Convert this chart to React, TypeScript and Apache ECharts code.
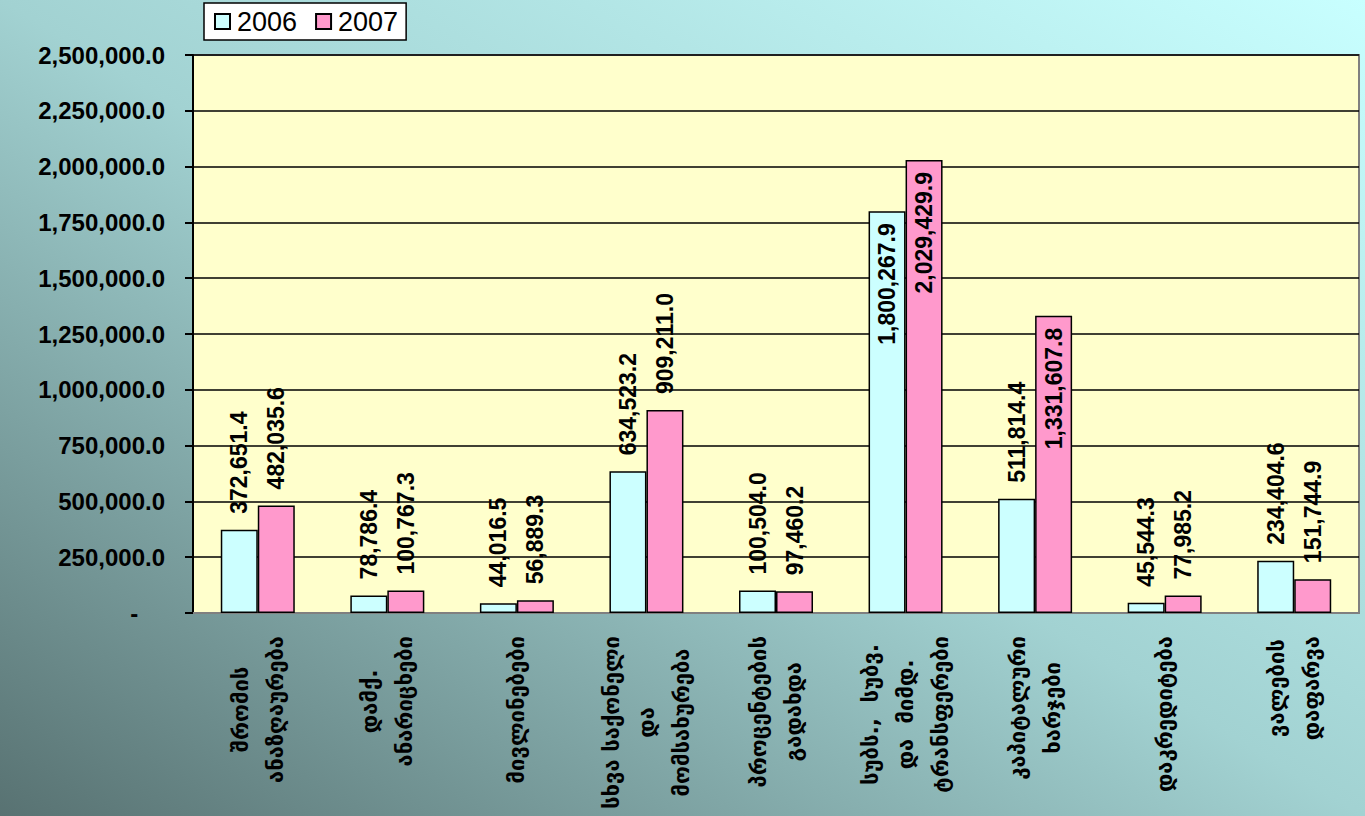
import React, { useEffect, useRef } from "react";
import * as echarts from "echarts";

const categories = [
  "შრომის\nანაზღაურება",
  "დამქ.\nანარიცხები",
  "მივლინებები",
  "სხვა საქონელი\nდა\nმომსახურება",
  "პროცენტების\nგადახდა",
  "სუბს.,  სუბვ.\nდა  მიმდ.\nტრანსფერები",
  "კაპიტალური\nხარჯები",
  "დაკრედიტება",
  "ვალების\nდაფარვა",
];
const seriesNames = ["2006", "2007"];
const values2006 = [372651.4, 78786.4, 44016.5, 634523.2, 100504.0, 1800267.9, 511814.4, 45544.3, 234404.6];
const values2007 = [482035.6, 100767.3, 56889.3, 909211.0, 97460.2, 2029429.9, 1331607.8, 77985.2, 151744.9];
const yMin = 0;
const yMax = 2500000;
const yInterval = 250000;

const fmt = (v: number) =>
  v.toLocaleString("en-US", { minimumFractionDigits: 1, maximumFractionDigits: 1 });

const NUM_FONT = "'Liberation Sans', Arial, sans-serif";

function buildData(values: number[]) {
  return values.map((v) => {
    const inside = v > 1000000;
    return {
      value: v,
      label: inside
        ? { position: "insideTop", distance: 12, align: "right", verticalAlign: "middle" }
        : { position: "top", distance: 16, align: "left", verticalAlign: "middle" },
    };
  });
}

export default function App() {
  const ref = useRef<HTMLDivElement>(null);
  useEffect(() => {
    document.body.style.margin = "0";
    const chart = echarts.init(ref.current!, null, { renderer: "svg" });
    const labelCommon = {
      show: true,
      rotate: 90,
      formatter: (p: any) => fmt(p.value),
      fontFamily: NUM_FONT,
      fontWeight: "bold",
      fontSize: 23,
      color: "#000",
    };
    chart.setOption({
      animation: false,
      backgroundColor: "transparent",
      legend: {
        data: seriesNames,
        left: 204,
        top: 3,
        padding: [5, 8, 5, 10],
        backgroundColor: "#ffffff",
        borderColor: "#000",
        borderWidth: 1.5,
        borderRadius: 0,
        itemWidth: 15,
        itemHeight: 15,
        itemGap: 18,
        icon: "rect",
        textStyle: { fontFamily: NUM_FONT, fontSize: 27, color: "#000", padding: [0, 0, 0, 2] },
      },
      grid: {
        left: 193,
        right: 6,
        top: 55,
        bottom: 203,
        outerBoundsMode: "none",
        containLabel: false,
        show: true,
        backgroundColor: "#ffffcc",
        borderColor: "#808080",
        borderWidth: 2,
      },
      xAxis: {
        type: "category",
        data: categories,
        axisLine: { show: true, lineStyle: { color: "#808080", width: 2 } },
        axisTick: { show: false },
        axisLabel: {
          interval: 0,
          rotate: 90,
          margin: 23,
          formatter: (v: string) => v.split("\n").map((l) => `{c|${l}}`).join("\n"),
          rich: {
            c: {
              align: "center",
              fontFamily: "'DejaVu Sans', sans-serif",
              fontSize: 22,
              fontWeight: "bold",
              lineHeight: 35,
              color: "#000",
            },
          },
        },
      },
      yAxis: {
        type: "value",
        min: yMin,
        max: yMax,
        interval: yInterval,
        axisLine: { show: true, lineStyle: { color: "#000", width: 2 } },
        axisTick: { show: true, inside: false, length: 8, lineStyle: { color: "#000", width: 2 } },
        splitLine: { show: true, lineStyle: { color: "#000", width: 1.5 } },
        axisLabel: {
          margin: 28,
          fontFamily: NUM_FONT,
          fontWeight: "bold",
          fontSize: 24,
          color: "#000",
          formatter: (v: number) => (v === 0 ? "-    " : fmt(v)),
        },
      },
      series: [
        {
          name: seriesNames[0],
          type: "bar",
          data: buildData(values2006),
          barWidth: 37,
          barGap: "0%",
          itemStyle: { color: "#ccffff", borderColor: "#000", borderWidth: 1.5 },
          label: labelCommon,
        },
        {
          name: seriesNames[1],
          type: "bar",
          data: buildData(values2007),
          barWidth: 37,
          barGap: "0%",
          itemStyle: { color: "#ff99cc", borderColor: "#000", borderWidth: 1.5 },
          label: labelCommon,
        },
      ],
    });
    return () => chart.dispose();
  }, []);
  return (
    <div
      style={{
        position: "absolute",
        left: 0,
        top: 0,
        width: 1365,
        height: 816,
        background: "linear-gradient(to bottom left, #c8ffff 0%, #a2d2d2 50%, #587272 100%)",
      }}
    >
      <div ref={ref} style={{ width: 1365, height: 816 }} />
    </div>
  );
}
